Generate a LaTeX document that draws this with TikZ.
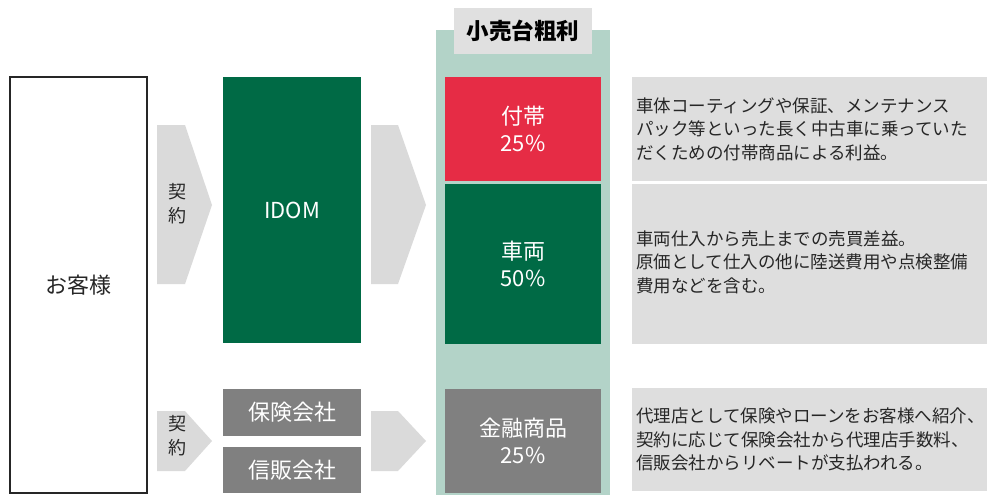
\documentclass[tikz,border=0pt]{standalone}
\usepackage{fontspec}
\setmainfont{Noto Sans CJK JP}
\definecolor{idomgreen}{HTML}{006A45}
\definecolor{futaired}{HTML}{E62C45}
\definecolor{fingray}{HTML}{808080}
\definecolor{notegray}{HTML}{DEDEDE}
\definecolor{arrowgray}{HTML}{DADADA}
\definecolor{columnbg}{HTML}{B3D3C8}
\definecolor{titlegray}{HTML}{E0E0E0}
\definecolor{textgray}{HTML}{262626}

\begin{document}
\begin{tikzpicture}[x=1pt, y=-1pt,
    box/.style={anchor=north west, inner sep=0pt, outer sep=0pt},
    boxtext/.style={text=white, align=center, font=\fontsize{22}{27}\selectfont},
    notebox/.style={box, fill=notegray, minimum width=355},
    notetext/.style={anchor=west, align=left, inner sep=0pt, text=textgray,
      font=\fontsize{17.5}{23.5}\selectfont},
    keiyaku/.style={align=center, inner sep=0pt, text=textgray,
      font=\fontsize{18}{24}\selectfont}]
  \useasboundingbox (0,0) rectangle (987,495);

  \node[box, draw=textgray, line width=1.2, minimum width=137, minimum height=416,
    text=textgray, font=\fontsize{22}{27}\selectfont] (cust) at (10,77) {お客様};

  \fill[arrowgray] (157,125) -- (185,125) -- (212,205) -- (185,284) -- (157,284) -- cycle;
  \fill[arrowgray] (157,411) -- (185,411) -- (212,441) -- (185,471) -- (157,471) -- cycle;
  \fill[arrowgray] (371,125) -- (398,125) -- (426,205) -- (398,284) -- (371,284) -- cycle;
  \fill[arrowgray] (371,411) -- (398,411) -- (426,441) -- (398,471) -- (371,471) -- cycle;
  \node[keiyaku] (contract) at (177,204) {契\\約};
  \node[keiyaku] (contract2) at (177,436) {契\\約};

  \node[box, fill=idomgreen, minimum width=138, minimum height=266, boxtext] (idom) at (223,77) {IDOM};
  \node[box, fill=fingray, minimum width=138, minimum height=47, boxtext] (insurer) at (223,389) {保険会社};
  \node[box, fill=fingray, minimum width=138, minimum height=46, boxtext] (credit) at (223,447) {信販会社};

  \node[box, fill=columnbg, minimum width=174, minimum height=465] (column) at (436,30) {};
  \node[box, fill=titlegray, minimum width=138, minimum height=46, text=black,
    font=\bfseries\fontsize{22.5}{27}\selectfont] (title) at (454,8) {小売台粗利};
  \node[box, fill=futaired, minimum width=156, minimum height=104, boxtext] (futai) at (445,77) {付帯\\25\%};
  \node[box, fill=idomgreen, minimum width=156, minimum height=160, boxtext] (sharyo) at (445,184) {車両\\50\%};
  \node[box, fill=fingray, minimum width=156, minimum height=104, boxtext] (kinyu) at (445,389) {金融商品\\25\%};

  \node[notebox, minimum height=104] (futainote) at (632,77) {};
  \node[notebox, minimum height=160] (sharyonote) at (632,184) {};
  \node[notebox, minimum height=103] (kinyunote) at (632,388) {};
  \node[notetext] at ([xshift=4]futainote.west)
    {車体コーティングや保証、メンテナンス\\パック等といった長く中古車に乗っていた\\だくための付帯商品による利益。};
  \node[notetext] at ([xshift=4, yshift=2]sharyonote.west)
    {車両仕入から売上までの売買差益。\\原価として仕入の他に陸送費用や点検整備\\費用などを含む。};
  \node[notetext] at ([xshift=4]kinyunote.west)
    {代理店として保険やローンをお客様へ紹介、\\契約に応じて保険会社から代理店手数料、\\信販会社からリベートが支払われる。};
\end{tikzpicture}
\end{document}
